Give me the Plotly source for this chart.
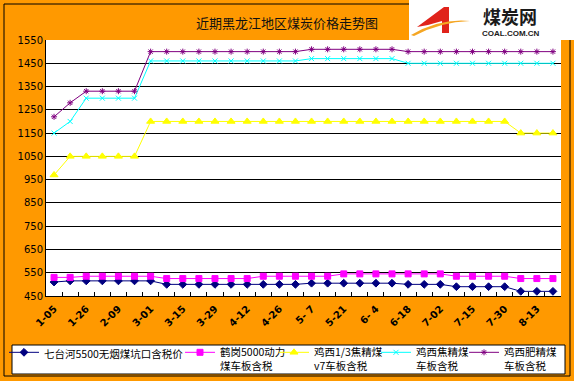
import plotly.graph_objects as go

# ---------------- data ----------------
dates = ["1-05", "1-15", "1-26", "2-02", "2-09", "2-22", "3-01", "3-08",
         "3-15", "3-22", "3-29", "4-05", "4-12", "4-19", "4-26", "5-02",
         "5- 7", "5-14", "5-21", "5-28", "6- 4", "6-11", "6-18", "6-25",
         "7-02", "7-09", "7-15", "7-23", "7-30", "8-06", "8-13", "8-20"]
shown_labels = [d if i % 2 == 0 else "" for i, d in enumerate(dates)]

qth_5500 = [510, 515, 515, 515, 515, 515, 515, 500, 500, 500, 500, 500, 500, 500, 500, 500,
            505, 505, 505, 505, 505, 505, 500, 500, 500, 490, 490, 490, 490, 470, 470, 470]
hg_5000 = [530, 530, 535, 535, 535, 535, 535, 525, 525, 525, 525, 525, 525, 535, 535, 535,
           535, 535, 545, 545, 545, 545, 545, 545, 545, 535, 535, 535, 535, 525, 525, 525]
jx_13 = [970, 1050, 1050, 1050, 1050, 1050, 1200, 1200, 1200, 1200, 1200, 1200, 1200, 1200, 1200, 1200,
         1200, 1200, 1200, 1200, 1200, 1200, 1200, 1200, 1200, 1200, 1200, 1200, 1200, 1150, 1150, 1150]
jx_jiao = [1150, 1200, 1300, 1300, 1300, 1300, 1460, 1460, 1460, 1460, 1460, 1460, 1460, 1460, 1460, 1460,
           1470, 1470, 1470, 1470, 1470, 1470, 1450, 1450, 1450, 1450, 1450, 1450, 1450, 1450, 1450, 1450]
jx_fei = [1220, 1280, 1330, 1330, 1330, 1330, 1500, 1500, 1500, 1500, 1500, 1500, 1500, 1500, 1500, 1500,
          1510, 1510, 1510, 1510, 1510, 1510, 1500, 1500, 1500, 1500, 1500, 1500, 1500, 1500, 1500, 1500]

series_names = ["七台河5500无烟煤坑口含税价", "鹤岗5000动力<br>煤车板含税", "鸡西1/3焦精煤<br>v7车板含税",
                "鸡西焦精煤<br>车板含税", "鸡西肥精煤<br>车板含税"]
y_ticks = [450, 550, 650, 750, 850, 950, 1050, 1150, 1250, 1350, 1450, 1550]
title_text = "近期黑龙江地区煤炭价格走势图"

# ---------------- styling ----------------
W, H = 574, 381
L, R, T, B = 46, 13, 40, 85
PW, PH = W - L - R, H - T - B
ORANGE = "#FF9900"
CJK = "Noto Sans CJK SC"


def px(x):
    return (x - L) / PW


def py(y):
    return (H - B - y) / PH


styles = [
    dict(color="#000080", symbol="diamond", size=6),
    dict(color="#FF00FF", symbol="square", size=6),
    dict(color="#FFFF00", symbol="triangle-up", size=7),
    dict(color="#00FFFF", symbol="x-thin-open", size=5),
    dict(color="#800080", symbol="asterisk-open", size=5),
]
values = [qth_5500, hg_5000, jx_13, jx_jiao, jx_fei]
legend_ids = ["legend", "legend2", "legend3", "legend4", "legend5"]
legend_left = [4, 180, 274, 376, 464]   # pixel x of each legend entry
legend_fonts = [10.5, 10.5, 10.5, 10.5, 10.5]

fig = go.Figure()
for name, vals, st, lid in zip(series_names, values, styles, legend_ids):
    fig.add_trace(go.Scatter(
        x=dates, y=vals, name=name, mode="lines+markers", legend=lid,
        line=dict(color=st["color"], width=1),
        marker=dict(symbol=st["symbol"], size=st["size"], color=st["color"],
                    line=dict(color=st["color"], width=1)),
    ))

shapes = [
    dict(type="rect", xref="paper", yref="paper", x0=px(4), x1=px(570), y0=py(376), y1=py(4),
         line=dict(color="black", width=1), fillcolor="rgba(0,0,0,0)", layer="below"),
    # legend box
    dict(type="rect", xref="paper", yref="paper", x0=px(12), x1=px(565), y0=py(374), y1=py(345),
         line=dict(color="black", width=1), fillcolor="white", layer="above"),
    # logo
    dict(type="rect", xref="paper", yref="paper", x0=px(409), x1=px(574), y0=py(40), y1=py(0),
         line=dict(width=0), fillcolor="white", layer="above"),
    dict(type="path", xref="paper", yref="paper",
         path=f"M {px(417)},{py(27)} L {px(444)},{py(7)} L {px(449)},{py(7)} L {px(449)},{py(33)} "
              f"L {px(442)},{py(33)} L {px(442)},{py(21)} L {px(428)},{py(25)} Z",
         line=dict(width=0), fillcolor="#E0231B", layer="above"),
    dict(type="path", xref="paper", yref="paper",
         path=f"M {px(411)},{py(35)} Q {px(440)},{py(18)} {px(470)},{py(21)} "
              f"Q {px(440)},{py(22)} {px(414)},{py(36)} Z",
         line=dict(width=0), fillcolor="#F5A623", layer="above"),
]

annotations = [
    dict(text=title_text, xref="paper", yref="paper", x=px(287), y=py(22), showarrow=False,
         font=dict(family=CJK, size=13, color="#111111"), xanchor="center", yanchor="middle"),
    dict(text="<b>煤炭网</b>", xref="paper", yref="paper", x=px(510), y=py(16), showarrow=False,
         font=dict(family=CJK, size=18, color="#1a1a1a"), xanchor="center", yanchor="middle"),
    dict(text="<b>COAL.COM.CN</b>", xref="paper", yref="paper", x=px(511), y=py(33), showarrow=False,
         font=dict(family="Liberation Sans", size=8, color="#1a1a1a"), xanchor="center", yanchor="middle"),
]

legends = {}
for lid, lx, fs in zip(legend_ids, legend_left, legend_fonts):
    legends[lid] = dict(orientation="h", x=px(lx), y=py(339), xanchor="left", yanchor="top",
                        bgcolor="rgba(0,0,0,0)", borderwidth=0, valign="top",
                        font=dict(family=CJK, size=fs, color="black"), itemwidth=30)

fig.update_layout(
    width=W, height=H, autosize=False,
    margin=dict(l=L, r=R, t=T, b=B, pad=0, autoexpand=False),
    paper_bgcolor=ORANGE, plot_bgcolor="white",
    showlegend=True,
    shapes=shapes, annotations=annotations,
    xaxis=dict(type="category", categoryorder="array", categoryarray=dates,
               tickmode="array", tickvals=dates, ticktext=shown_labels,
               tickson="boundaries", ticks="inside", ticklen=4, tickcolor="black",
               tickangle=-45, tickfont=dict(family="DejaVu Sans", size=10, color="black", weight="bold"),
               ticklabelstandoff=2,
               showline=True, linecolor="black", linewidth=1, showgrid=False,
               range=[-0.5, len(dates) - 0.5], fixedrange=True),
    yaxis=dict(range=[450, 1550], tickmode="array", tickvals=y_ticks,
               showgrid=True, gridcolor="black", gridwidth=1,
               showline=True, linecolor="black", linewidth=1, zeroline=False,
               ticks="", tickfont=dict(family="DejaVu Sans", size=10, color="black"),
               fixedrange=True),
    **legends,
)

fig.write_html("out.html")
